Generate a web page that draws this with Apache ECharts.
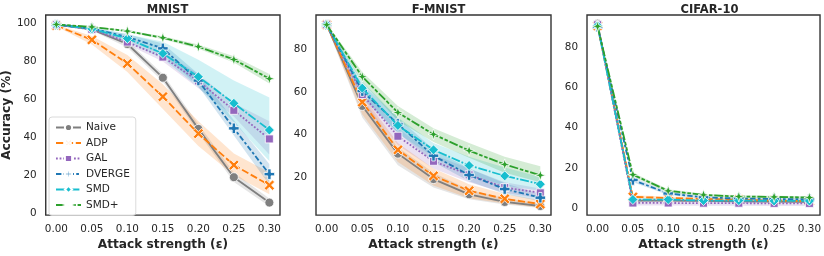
<!DOCTYPE html>
<html><head><meta charset="utf-8">
<script src="https://cdn.jsdelivr.net/npm/echarts@6/dist/echarts.min.js"></script>
<style>html,body{margin:0;padding:0;background:#fff}#c{width:824px;height:256px}</style>
</head><body><div id="c"></div>
<script>
const xs = [0.00, 0.05, 0.10, 0.15, 0.20, 0.25, 0.30];
const xTicks = [0.00, 0.05, 0.10, 0.15, 0.20, 0.25, 0.30];
const panelTitles = ['MNIST', 'F-MNIST', 'CIFAR-10'];
const methods = ['Naive', 'ADP', 'GAL', 'DVERGE', 'SMD', 'SMD+'];
const yTicksMnist = [0, 20, 40, 60, 80, 100];
const yTicksFmnist = [20, 40, 60, 80];
const yTicksCifar = [0, 20, 40, 60, 80];

// MNIST
const mnistNaive  = [99.5, 97.0, 89.3, 71.5, 44.5, 19.0, 5.6];
const mnistAdp    = [99.0, 91.5, 79.0, 61.5, 42.0, 25.4, 14.8];
const mnistGal    = [99.4, 97.0, 90.3, 82.4, 69.8, 54.3, 39.2];
const mnistDverge = [99.5, 97.5, 93.0, 87.0, 70.0, 44.8, 20.6];
const mnistSmd    = [99.5, 97.3, 92.2, 84.3, 72.0, 58.0, 43.9];
const mnistSmdp   = [99.6, 98.3, 96.1, 92.6, 87.9, 81.1, 71.0];
const mnistNaiveLo  = [99.2, 96.4, 87.5, 69.5, 42.5, 16.5, 3.7];
const mnistNaiveHi  = [99.7, 97.6, 91.0, 73.5, 47.0, 21.5, 7.7];
const mnistAdpLo    = [98.5, 89.0, 74.5, 55.0, 35.5, 20.0, 10.0];
const mnistAdpHi    = [99.4, 93.5, 83.5, 68.0, 48.5, 31.5, 21.5];
const mnistGalLo    = [99.2, 96.5, 89.0, 80.0, 66.0, 51.0, 31.0];
const mnistGalHi    = [99.6, 97.5, 91.5, 85.0, 73.5, 58.0, 48.5];
const mnistDvergeLo = [99.3, 96.8, 91.5, 84.0, 67.0, 41.0, 15.0];
const mnistDvergeHi = [99.7, 98.0, 94.5, 89.5, 73.5, 49.0, 26.0];
const mnistSmdLo    = [99.3, 96.7, 90.5, 81.5, 66.5, 48.0, 27.5];
const mnistSmdHi    = [99.7, 98.2, 94.5, 90.5, 81.0, 70.0, 61.0];
const mnistSmdpLo   = [99.4, 98.0, 95.6, 91.8, 86.8, 79.5, 68.5];
const mnistSmdpHi   = [99.8, 98.6, 96.6, 93.4, 89.0, 82.8, 73.5];

// F-MNIST
const fmNaive  = [91.8, 53.5, 31.0, 19.0, 11.8, 8.2, 6.3];
const fmAdp    = [91.8, 55.3, 32.8, 20.5, 13.5, 9.7, 7.2];
const fmGal    = [91.8, 58.9, 39.2, 27.4, 21.0, 15.0, 12.5];
const fmDverge = [91.8, 60.5, 45.0, 30.0, 20.9, 14.3, 10.2];
const fmSmd    = [91.8, 61.9, 44.3, 32.8, 25.4, 20.5, 16.6];
const fmSmdp   = [91.8, 67.3, 50.4, 40.1, 32.4, 25.9, 20.8];
const fmNaiveLo  = [91.3, 48.0, 25.5, 15.0, 9.5, 7.0, 5.3];
const fmNaiveHi  = [92.3, 57.0, 34.0, 22.0, 14.0, 10.0, 7.5];
const fmAdpLo    = [91.3, 49.5, 27.0, 16.0, 10.0, 7.5, 5.5];
const fmAdpHi    = [92.3, 58.5, 36.0, 24.0, 16.5, 12.0, 9.0];
const fmGalLo    = [91.3, 55.0, 35.0, 24.0, 17.5, 12.5, 10.0];
const fmGalHi    = [92.3, 62.0, 43.0, 30.5, 24.0, 17.5, 14.5];
const fmDvergeLo = [91.3, 57.0, 41.0, 27.0, 18.0, 12.0, 8.5];
const fmDvergeHi = [92.3, 63.5, 48.0, 33.0, 24.0, 17.0, 12.0];
const fmSmdLo    = [91.3, 58.5, 40.5, 29.5, 21.0, 16.0, 13.5];
const fmSmdHi    = [92.3, 65.0, 48.0, 36.0, 29.5, 24.5, 20.0];
const fmSmdpLo   = [91.3, 64.5, 46.5, 36.5, 29.0, 22.0, 17.5];
const fmSmdpHi   = [92.3, 69.5, 53.5, 43.0, 36.0, 29.5, 25.0];

// CIFAR-10
const cfNaive  = [91.5, 4.0, 4.0, 3.8, 3.6, 3.5, 3.4];
const cfAdp    = [90.5, 5.8, 5.3, 4.8, 4.4, 4.0, 3.6];
const cfGal    = [91.0, 2.8, 2.8, 2.7, 2.7, 2.6, 2.6];
const cfDverge = [90.0, 14.2, 7.5, 5.6, 5.0, 4.8, 4.6];
const cfSmd    = [90.5, 4.5, 4.5, 4.0, 4.0, 3.8, 3.8];
const cfSmdp   = [90.2, 16.8, 8.8, 6.8, 6.0, 5.8, 5.5];
const cfNaiveLo  = [90.8, 3.4, 3.4, 3.2, 3.0, 2.9, 2.8];
const cfNaiveHi  = [92.2, 4.6, 4.6, 4.4, 4.2, 4.1, 4.0];
const cfAdpLo    = [89.8, 5.0, 4.6, 4.2, 3.8, 3.4, 3.0];
const cfAdpHi    = [91.2, 6.6, 6.0, 5.4, 5.0, 4.6, 4.2];
const cfGalLo    = [90.2, 1.5, 1.5, 1.4, 1.4, 1.3, 1.3];
const cfGalHi    = [91.8, 4.1, 4.1, 4.0, 4.0, 3.9, 3.9];
const cfDvergeLo = [89.3, 13.0, 6.8, 5.0, 4.4, 4.2, 4.0];
const cfDvergeHi = [90.7, 15.4, 8.2, 6.2, 5.6, 5.4, 5.2];
const cfSmdLo    = [89.8, 3.9, 3.9, 3.4, 3.4, 3.2, 3.2];
const cfSmdHi    = [91.2, 5.1, 5.1, 4.6, 4.6, 4.4, 4.4];
const cfSmdpLo   = [89.5, 15.8, 8.0, 6.2, 5.4, 5.2, 4.9];
const cfSmdpHi   = [90.9, 17.8, 9.6, 7.4, 6.6, 6.4, 6.1];

const panels = [
  {means:[mnistNaive,mnistAdp,mnistGal,mnistDverge,mnistSmd,mnistSmdp],
   lo:[mnistNaiveLo,mnistAdpLo,mnistGalLo,mnistDvergeLo,mnistSmdLo,mnistSmdpLo],
   hi:[mnistNaiveHi,mnistAdpHi,mnistGalHi,mnistDvergeHi,mnistSmdHi,mnistSmdpHi],
   yMin:-1.0, yMax:104.6, yTicks:yTicksMnist, left:45},
  {means:[fmNaive,fmAdp,fmGal,fmDverge,fmSmd,fmSmdp],
   lo:[fmNaiveLo,fmAdpLo,fmGalLo,fmDvergeLo,fmSmdLo,fmSmdpLo],
   hi:[fmNaiveHi,fmAdpHi,fmGalHi,fmDvergeHi,fmSmdHi,fmSmdpHi],
   yMin:2.0, yMax:96.4, yTicks:yTicksFmnist, left:316},
  {means:[cfNaive,cfAdp,cfGal,cfDverge,cfSmd,cfSmdp],
   lo:[cfNaiveLo,cfAdpLo,cfGalLo,cfDvergeLo,cfSmdLo,cfSmdpLo],
   hi:[cfNaiveHi,cfAdpHi,cfGalHi,cfDvergeHi,cfSmdHi,cfSmdpHi],
   yMin:-3.2, yMax:95.8, yTicks:yTicksCifar, left:587}
];

const colors = ['#7f7f7f','#ff7f0e','#9467bd','#1f77b4','#17becf','#2ca02c'];
const bandColors = ['rgba(127,127,127,0.2)','rgba(255,127,14,0.2)','rgba(148,103,189,0.2)','rgba(31,119,180,0.2)','rgba(23,190,207,0.2)','rgba(44,160,44,0.2)'];
const lw = 1.8;
const dashes = ['solid',[4*lw,1.5*lw],[1*lw,1*lw],[3*lw,1.25*lw,1.5*lw,1.25*lw],[5*lw,1*lw,1*lw,1*lw],[5*lw,1*lw,2*lw,1*lw,2*lw,1*lw]];
const symbols = [
  'circle',
  'path://M2,0 L5,3 L8,0 L10,2 L7,5 L10,8 L8,10 L5,7 L2,10 L0,8 L3,5 L0,2 Z',
  'rect',
  'path://M3.4,0 H6.6 V3.4 H10 V6.6 H6.6 V10 H3.4 V6.6 H0 V3.4 H3.4 Z',
  'diamond',
  'path://M5,0 L6.2,3.8 L10,5 L6.2,6.2 L5,10 L3.8,6.2 L0,5 L3.8,3.8 Z'
];
const symSizes = [9, 10.5, 8, 10.5, 10, 11];
const txt = '#262626';
const FONT = 'DejaVu Sans';

const grids = [], xAxes = [], yAxes = [], series = [], titles = [];
panels.forEach((p, pi) => {
  grids.push({left:p.left, top:15, width:235, height:205, show:true, borderColor:'#333', borderWidth:1.4, backgroundColor:'#fff', containLabel:false});
  titles.push({text:panelTitles[pi], left:p.left+117.5, textAlign:'center', top:-1,
    textStyle:{fontFamily:FONT, fontWeight:'bold', fontSize:11.5, color:txt}});
  xAxes.push({type:'value', gridIndex:pi, min:-0.015, max:0.315,
    name:'Attack strength (ε)', nameLocation:'middle', nameGap:22,
    nameTextStyle:{fontFamily:FONT, fontWeight:'bold', fontSize:12.2, color:txt},
    axisLine:{show:false}, axisTick:{show:false}, splitLine:{show:false},
    axisLabel:{customValues:xTicks, formatter:v=>v.toFixed(2), fontFamily:FONT, fontSize:10.4, color:txt, margin:9}});
  yAxes.push({type:'value', gridIndex:pi, min:p.yMin, max:p.yMax,
    name: pi===0 ? 'Accuracy (%)' : '', nameLocation:'middle', nameGap:27,
    nameTextStyle:{fontFamily:FONT, fontWeight:'bold', fontSize:12.2, color:txt},
    axisLine:{show:false}, axisTick:{show:false}, splitLine:{show:false},
    axisLabel:{customValues:p.yTicks, fontFamily:FONT, fontSize:10.4, color:txt, margin:9}});
  methods.forEach((m, mi) => {
    const lo = p.lo[mi], hi = p.hi[mi];
    series.push({type:'custom', name:'band'+pi+'_'+mi, xAxisIndex:pi, yAxisIndex:pi, silent:true, z:1,
      data:[[xs[0], lo[0]]], encode:{x:0, y:1},
      renderItem:(params, api) => {
        const pts = [];
        for (let i = 0; i < xs.length; i++) pts.push(api.coord([xs[i], hi[i]]));
        for (let i = xs.length-1; i >= 0; i--) pts.push(api.coord([xs[i], lo[i]]));
        return {type:'polygon', shape:{points:pts}, style:{fill:bandColors[mi], stroke:null}};
      }});
  });
  methods.forEach((m, mi) => {
    series.push({type:'line', name:m, xAxisIndex:pi, yAxisIndex:pi, z:3+mi,
      data: xs.map((x,i)=>[x, p.means[mi][i]]),
      symbol:symbols[mi], symbolSize:symSizes[mi], showSymbol:true,
      lineStyle:{color:colors[mi], width:lw, type:dashes[mi]},
      itemStyle:{color:colors[mi], borderColor:'#fff', borderWidth:0.8},
      emphasis:{disabled:true}, animation:false});
  });
});

const chart = echarts.init(document.getElementById('c'), null, {renderer:'canvas'});
chart.setOption({
  animation:false,
  backgroundColor:'#fff',
  title:titles,
  grid:grids, xAxis:xAxes, yAxis:yAxes, series:series,
  legend:{data:methods, orient:'vertical', left:49, top:117, itemWidth:25, itemHeight:9, itemGap:4.5,
    padding:[5,6,5,6], borderColor:'#d0d0d0', borderWidth:0.8, borderRadius:3,
    backgroundColor:'rgba(255,255,255,0.85)', selectedMode:false,
    textStyle:{fontFamily:FONT, fontSize:10.5, color:txt}}
});
</script></body></html>
